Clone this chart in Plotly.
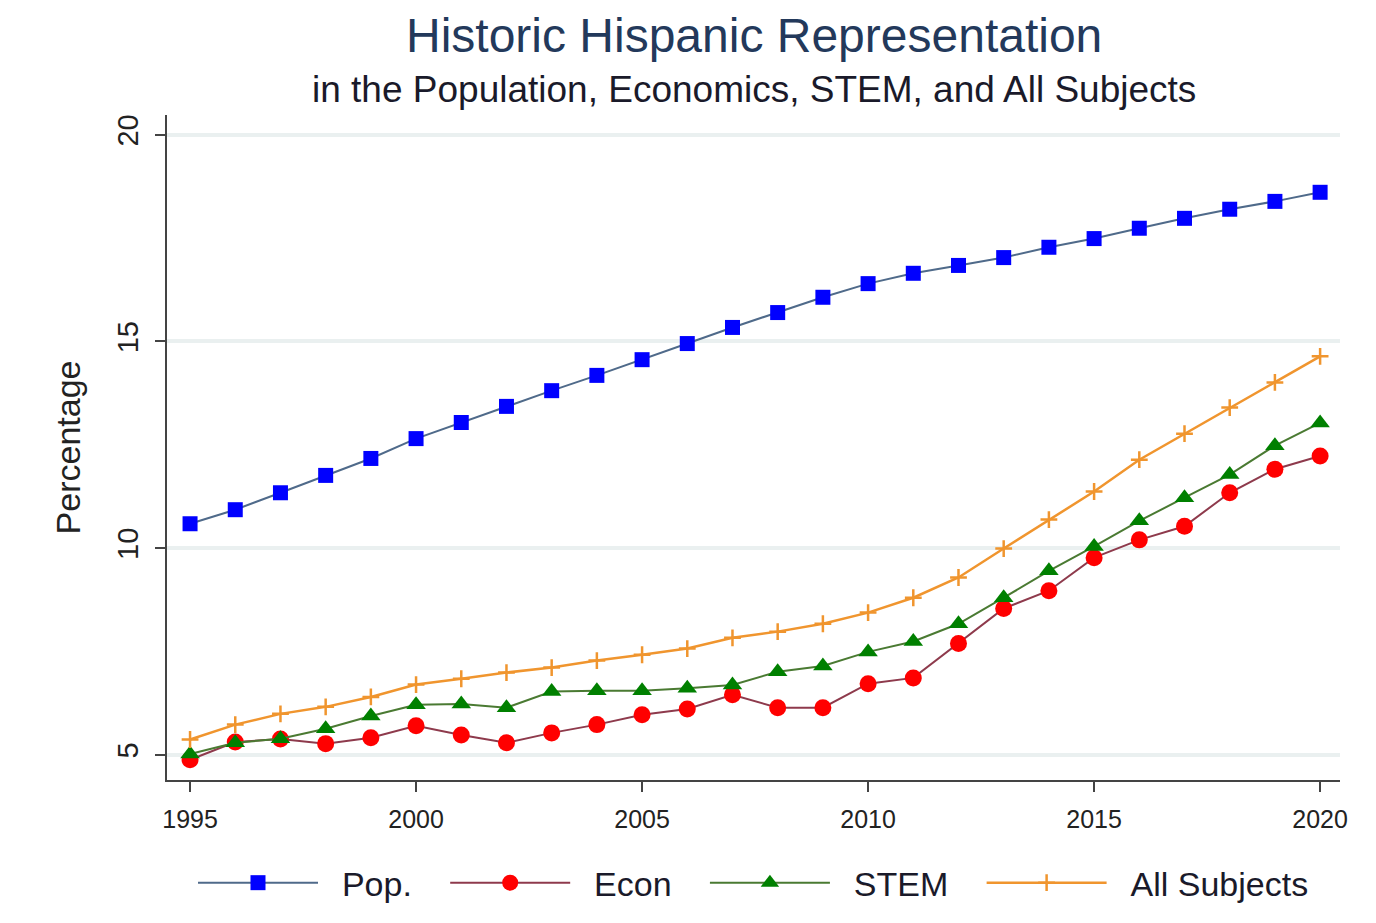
import plotly.graph_objects as go

# data
years = list(range(1995, 2021))

pop = [10.59, 10.93, 11.34, 11.76, 12.17, 12.65, 13.04, 13.43, 13.81, 14.18,
       14.56, 14.95, 15.34, 15.70, 16.07, 16.40, 16.65, 16.84, 17.03, 17.28,
       17.49, 17.74, 17.98, 18.20, 18.39, 18.61]

econ = [4.88, 5.31, 5.38, 5.27, 5.41, 5.70, 5.48, 5.29, 5.53, 5.73,
        5.97, 6.11, 6.45, 6.14, 6.14, 6.72, 6.86, 7.69, 8.54, 8.97,
        9.77, 10.20, 10.53, 11.34, 11.91, 12.23]

stem = [5.02, 5.29, 5.39, 5.63, 5.94, 6.21, 6.23, 6.14, 6.53, 6.55,
        6.55, 6.61, 6.69, 7.01, 7.15, 7.49, 7.74, 8.17, 8.80, 9.45,
        10.04, 10.66, 11.22, 11.78, 12.48, 13.03]

all_subjects = [5.37, 5.73, 5.99, 6.16, 6.40, 6.70, 6.84, 6.99, 7.11, 7.28,
                7.42, 7.57, 7.83, 7.98, 8.17, 8.44, 8.80, 9.29, 9.99, 10.69,
                11.37, 12.14, 12.77, 13.40, 14.01, 14.64]

y_ticks = [5, 10, 15, 20]
x_ticks = [1995, 2000, 2005, 2010, 2015, 2020]

font = "Liberation Sans, Arial, sans-serif"
nb = "\u00a0"  # padding in legend labels

fig = go.Figure()
fig.add_trace(go.Scatter(x=years, y=pop, name=nb * 2 + "Pop." + nb * 3, mode="lines+markers",
                         line=dict(color="#4f6a8a", width=2),
                         marker=dict(symbol="square", size=15, color="#0000ff")))
fig.add_trace(go.Scatter(x=years, y=econ, name=nb * 2 + "Econ" + nb * 3, mode="lines+markers",
                         line=dict(color="#8e3a4c", width=2),
                         marker=dict(symbol="circle", size=17, color="#ff0000")))
fig.add_trace(go.Scatter(x=years, y=stem, name=nb * 2 + "STEM" + nb * 3, mode="lines+markers",
                         line=dict(color="#4a7a32", width=2),
                         marker=dict(symbol="triangle-up", size=17, color="#008000")))
fig.add_trace(go.Scatter(x=years, y=all_subjects, name=nb * 2 + "All Subjects", mode="lines+markers",
                         line=dict(color="#f0952e", width=2.5),
                         marker=dict(symbol="cross-thin", size=12,
                                     line=dict(color="#f0952e", width=2.5))))

# the page body adds 8px, so margins are set smaller on left/top
fig.update_layout(
    width=1376, height=923,
    paper_bgcolor="white", plot_bgcolor="white",
    font=dict(family=font, color="#222222"),
    margin=dict(l=159, r=44, t=107, b=151),
    showlegend=True,
    legend=dict(orientation="h", x=0.5, xanchor="center", y=-0.155, yanchor="middle",
                font=dict(size=34, color="#1a1a2a"), itemwidth=120,
                tracegroupgap=0),
    annotations=[
        dict(text="Historic Hispanic Representation", xref="paper", yref="paper",
             x=0.5, y=1.0, yshift=80, yanchor="middle", showarrow=False,
             font=dict(size=48, color="#23395b", family=font)),
        dict(text="in the Population, Economics, STEM, and All Subjects", xref="paper",
             yref="paper", x=0.5, y=1.0, yshift=26, yanchor="middle", showarrow=False,
             font=dict(size=37, color="#1a1a2a", family=font)),
    ],
)

fig.update_xaxes(range=[1994.49, 2020.44], tickvals=x_ticks, showgrid=False,
                 showline=True, linecolor="#444444", linewidth=2,
                 ticks="outside", ticklen=10, tickwidth=2, tickcolor="#444444",
                 ticklabelstandoff=6,
                 tickfont=dict(size=25, color="#222222"), zeroline=False)
fig.update_yaxes(range=[4.39, 20.48], tickvals=y_ticks, tickangle=-90,
                 showgrid=True, gridcolor="#eaf0f0", gridwidth=4,
                 showline=True, linecolor="#444444", linewidth=2,
                 ticks="outside", ticklen=10, tickwidth=2, tickcolor="#444444",
                 ticklabelstandoff=5,
                 tickfont=dict(size=29, color="#222222"), zeroline=False,
                 title=dict(text="Percentage", font=dict(size=34, color="#222222"),
                            standoff=22))

fig.write_html("out.html")
